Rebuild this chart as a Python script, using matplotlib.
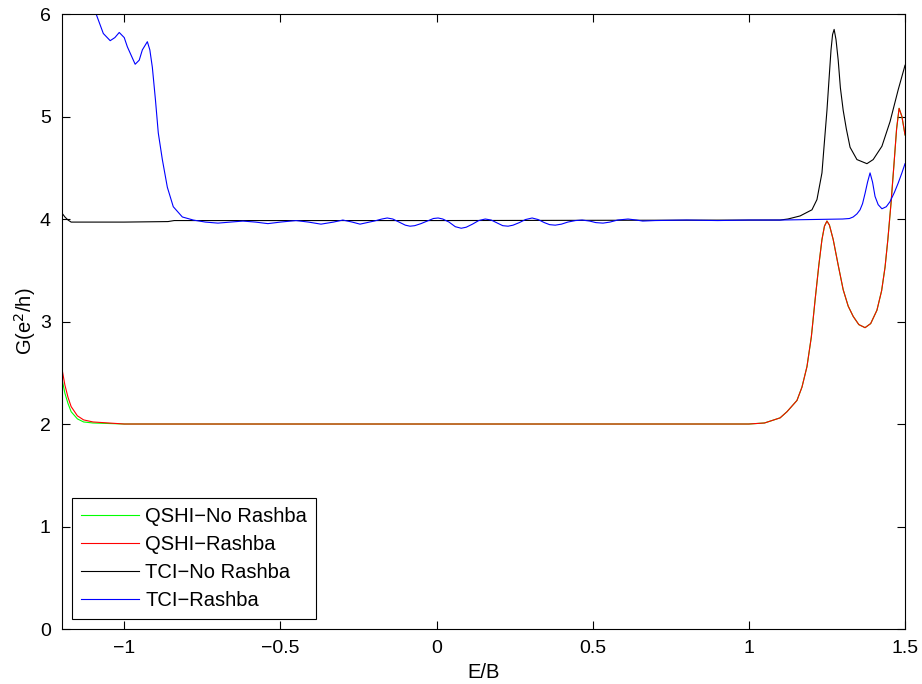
import matplotlib.pyplot as plt

plt.rcParams['font.family'] = ['Liberation Sans', 'DejaVu Sans']

# values
E_qshi = [-1.2, -1.19, -1.18, -1.17, -1.15, -1.13, -1.1, -1.05, -1.0, 0.0, 1.0, 1.05, 1.1,
          1.122, 1.154, 1.17, 1.186, 1.2, 1.212, 1.224, 1.234, 1.242, 1.25, 1.258, 1.27,
          1.286, 1.302, 1.318, 1.334, 1.352, 1.372, 1.39, 1.41, 1.425, 1.436, 1.445,
          1.455, 1.465, 1.473, 1.481, 1.49, 1.5]
G_qshi_rashba = [2.55, 2.38, 2.26, 2.17, 2.08, 2.04, 2.02, 2.01, 2.0, 2.0, 2.0, 2.01, 2.06,
                 2.12, 2.23, 2.36, 2.56, 2.85, 3.21, 3.55, 3.80, 3.93, 3.98, 3.94, 3.80,
                 3.55, 3.31, 3.15, 3.05, 2.97, 2.94, 2.98, 3.11, 3.30, 3.53, 3.80,
                 4.15, 4.55, 4.88, 5.08, 5.00, 4.82]
G_qshi_norashba = [2.45, 2.30, 2.20, 2.12, 2.05, 2.02, 2.01, 2.005, 2.0, 2.0, 2.0, 2.01, 2.06,
                   2.12, 2.23, 2.36, 2.56, 2.85, 3.21, 3.55, 3.80, 3.93, 3.98, 3.94, 3.80,
                   3.55, 3.31, 3.15, 3.05, 2.97, 2.94, 2.98, 3.11, 3.30, 3.53, 3.80,
                   4.15, 4.55, 4.88, 5.08, 5.00, 4.82]

E_tci = [-1.2, -1.19, -1.18, -1.17, -1.0, -0.86, -0.84, 0.0, 1.1, 1.125, 1.164, 1.202,
         1.218, 1.234, 1.241, 1.25, 1.257, 1.263, 1.268, 1.273, 1.279, 1.286, 1.293,
         1.302, 1.312, 1.324, 1.346, 1.378, 1.398, 1.426, 1.452, 1.478, 1.5]
G_tci_norashba = [4.06, 4.02, 3.99, 3.97, 3.97, 3.975, 3.985, 3.985, 3.99, 4.0, 4.03, 4.09,
                  4.19, 4.45, 4.72, 5.06, 5.38, 5.65, 5.80, 5.85, 5.75, 5.55, 5.28,
                  5.06, 4.88, 4.70, 4.58, 4.54, 4.58, 4.71, 4.95, 5.26, 5.50]

E_tci_r = [-1.2, -1.15, -1.11, -1.09, -1.067, -1.045, -1.03, -1.016, -1.0, -0.99, -0.965,
           -0.952, -0.942, -0.926, -0.918, -0.91, -0.9, -0.891, -0.878, -0.862, -0.843,
           -0.814, -0.779, -0.74, -0.7, -0.66, -0.62, -0.58, -0.54, -0.5, -0.45, -0.41,
           -0.37, -0.33, -0.3, -0.27, -0.245, -0.2, -0.175, -0.158, -0.14, -0.12, -0.1,
           -0.085, -0.07, -0.05, -0.03, -0.01, 0.005, 0.02, 0.04, 0.06, 0.079, 0.095,
           0.115, 0.135, 0.156, 0.175, 0.195, 0.212, 0.229, 0.245, 0.265, 0.285, 0.306,
           0.325, 0.345, 0.362, 0.38, 0.4, 0.42, 0.445, 0.466, 0.49, 0.51, 0.533, 0.555,
           0.58, 0.613, 0.64, 0.66, 0.7, 0.8, 0.9, 1.0, 1.1, 1.2, 1.3, 1.322, 1.334,
           1.346, 1.356, 1.364, 1.372, 1.38, 1.388, 1.396, 1.404, 1.414, 1.426, 1.44,
           1.452, 1.466, 1.478, 1.49, 1.5]
G_tci_rashba = [6.6, 6.35, 6.12, 6.0, 5.81, 5.74, 5.77, 5.82, 5.77, 5.68, 5.51,
                5.55, 5.65, 5.73, 5.65, 5.48, 5.16, 4.84, 4.58, 4.31, 4.12,
                4.02, 3.99, 3.97, 3.96, 3.97, 3.98, 3.97, 3.955, 3.97, 3.985, 3.97,
                3.95, 3.97, 3.99, 3.97, 3.95, 3.98, 4.0, 4.01, 4.0, 3.97, 3.94,
                3.93, 3.935, 3.955, 3.98, 4.005, 4.01, 4.0, 3.97, 3.925, 3.91, 3.92,
                3.95, 3.985, 4.0, 3.99, 3.96, 3.935, 3.93, 3.94, 3.965, 3.995, 4.01,
                3.995, 3.965, 3.945, 3.94, 3.95, 3.97, 3.985, 3.99, 3.98, 3.965, 3.96, 3.97,
                3.99, 4.0, 3.99, 3.98, 3.985, 3.99, 3.985, 3.99, 3.99, 3.995, 4.0, 4.005, 4.02,
                4.05, 4.09, 4.15, 4.25, 4.36, 4.45, 4.36, 4.22, 4.14, 4.10, 4.12,
                4.17, 4.26, 4.35, 4.45, 4.54]

fig = plt.figure(figsize=(9.22, 6.84), dpi=100)
ax = fig.add_axes([0.067, 0.0804, 0.9146, 0.8991])

lw = 0.8
ax.plot(E_qshi, G_qshi_norashba, color='#00ff00', lw=lw, label='QSHI\u2212No Rashba')
ax.plot(E_qshi, G_qshi_rashba, color='#ff0000', lw=lw, label='QSHI\u2212Rashba')
ax.plot(E_tci, G_tci_norashba, color='#000000', lw=lw, label='TCI\u2212No Rashba')
ax.plot(E_tci_r, G_tci_rashba, color='#0000ff', lw=lw, label='TCI\u2212Rashba')

ax.set_xlim(-1.2, 1.5)
ax.set_ylim(0, 6)
ax.set_xticks([-1, -0.5, 0, 0.5, 1, 1.5])
ax.set_xticklabels(['\u22121', '\u22120.5', '0', '0.5', '1', '1.5'])
ax.set_yticks([0, 1, 2, 3, 4, 5, 6])
ax.tick_params(direction='in', top=True, right=True, length=6, labelsize=14, pad=8)
for sp in ax.spines.values():
    sp.set_linewidth(0.8)

ax.set_xlabel('E/B', fontsize=14.5, labelpad=4)
ax.set_ylabel('G(e$^2$/h)', fontsize=14.5, labelpad=1)

leg = ax.legend(loc='lower left', fontsize=14.5, fancybox=False, framealpha=1,
                edgecolor='black', handlelength=2.9, borderaxespad=0.5,
                labelspacing=0.45, handletextpad=0.3, borderpad=0.45)
leg.get_frame().set_linewidth(0.8)

fig.savefig('out.png', dpi=100)
